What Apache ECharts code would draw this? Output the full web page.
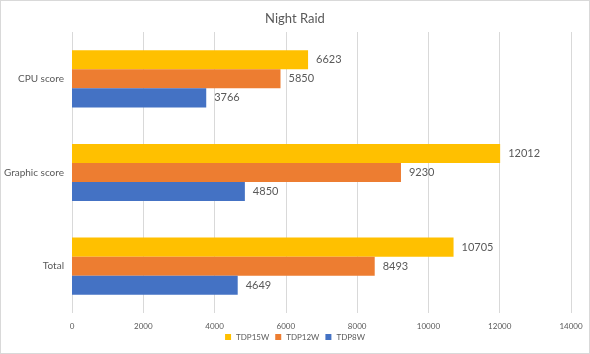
<!DOCTYPE html>
<html>
<head>
<meta charset="utf-8">
<script src="https://cdn.jsdelivr.net/npm/echarts@6/dist/echarts.min.js"></script>
<style>
  html, body { margin: 0; padding: 0; background: #fff; }
  #chart { width: 588px; height: 352px; border: 1px solid #d9d9d9; }
</style>
</head>
<body>
<div id="chart"></div>
<script>
// categories listed bottom to top (category axis grows upward)
var categories = ['Total', 'Graphic score', 'CPU score'];
var tdp15w = [10705, 12012, 6623];
var tdp12w = [8493, 9230, 5850];
var tdp8w = [4649, 4850, 3766];
var legendNames = ['TDP15W', 'TDP12W', 'TDP8W'];

var chart = echarts.init(document.getElementById('chart'));
var font = 'Lato';

var labelStyle = {
    show: true,
    position: 'right',
    distance: 8,
    color: '#595959',
    fontSize: 11,
    fontFamily: font
};

var option = {
    animation: false,
    title: {
        text: 'Night Raid',
        left: 'center',
        top: 6,
        textStyle: { color: '#595959', fontSize: 13, fontWeight: 'normal', fontFamily: font }
    },
    legend: {
        data: legendNames,
        bottom: 7,
        left: 'center',
        itemWidth: 6,
        itemHeight: 6,
        itemGap: 6,
        icon: 'rect',
        textStyle: { color: '#595959', fontSize: 8, fontFamily: font }
    },
    grid: { left: 71, right: 18, top: 31, bottom: 40, containLabel: false, outerBoundsMode: 'none' },
    xAxis: {
        type: 'value',
        min: 0,
        max: 14000,
        interval: 2000,
        axisLine: { show: false },
        axisTick: { show: false },
        axisLabel: {
            color: '#595959', fontSize: 8, margin: 9, fontFamily: font,
            formatter: function (v) { return String(v); }
        },
        splitLine: { lineStyle: { color: '#d9d9d9' } }
    },
    yAxis: {
        type: 'category',
        data: categories,
        axisLine: { show: false },
        axisTick: { show: false },
        axisLabel: { color: '#595959', fontSize: 10, margin: 8, fontFamily: font }
    },
    series: [
        {
            name: 'TDP15W', type: 'bar', data: tdp15w,
            itemStyle: { color: '#FFC000' },
            barGap: 0, barCategoryGap: '39%',
            label: labelStyle
        },
        {
            name: 'TDP12W', type: 'bar', data: tdp12w,
            itemStyle: { color: '#ED7D31' },
            barGap: 0, barCategoryGap: '39%',
            label: labelStyle
        },
        {
            name: 'TDP8W', type: 'bar', data: tdp8w,
            itemStyle: { color: '#4472C4' },
            barGap: 0, barCategoryGap: '39%',
            label: labelStyle
        }
    ]
};

chart.setOption(option);
</script>
</body>
</html>
